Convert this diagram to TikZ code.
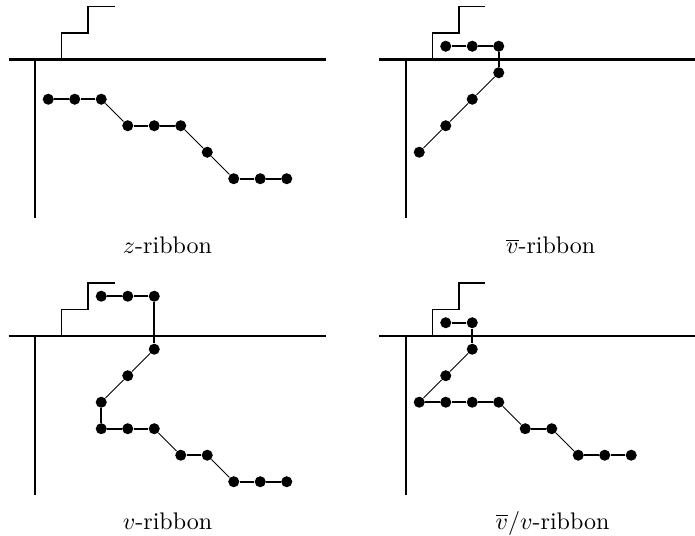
\documentclass[tikz,border=0pt]{standalone}
\tikzset{
  dot/.style={circle,fill=black,inner sep=0pt,minimum size=4.6pt},
  axisline/.style={line width=1.2pt},
  stair/.style={line width=0.8pt},
  hlink/.style={line width=0.8pt},
  dlink/.style={line width=0.4pt},
  lab/.style={anchor=base,font=\fontsize{10}{12}\selectfont}
}
\newcommand\panelframe{%
  \draw[axisline] (-1,0) -- (11,0);
  \draw[axisline] (0,0) -- (0,6);
  \draw[stair] (1,0) -- (1,-1) -- (2,-1) -- (2,-2) -- (3,-2);
}
\begin{document}
\begin{tikzpicture}[x=0.388cm,y=-0.388cm]
\path[use as bounding box,clip] (-1.321,-2.245) rectangle (24.906,17.98);
% ---------- z-ribbon ----------
\begin{scope}
  \panelframe
  \node[dot] (a1) at (0.5,1.5) {};
  \node[dot] (a2) at (1.5,1.5) {};
  \node[dot] (a3) at (2.5,1.5) {};
  \node[dot] (a4) at (3.5,2.5) {};
  \node[dot] (a5) at (4.5,2.5) {};
  \node[dot] (a6) at (5.5,2.5) {};
  \node[dot] (a7) at (6.5,3.5) {};
  \node[dot] (a8) at (7.5,4.5) {};
  \node[dot] (a9) at (8.5,4.5) {};
  \node[dot] (a10) at (9.5,4.5) {};
  \draw[hlink] (a1) -- (a2);
  \draw[hlink] (a2) -- (a3);
  \draw[dlink] (a3) -- (a4);
  \draw[hlink] (a4) -- (a5);
  \draw[hlink] (a5) -- (a6);
  \draw[dlink] (a6) -- (a7);
  \draw[dlink] (a7) -- (a8);
  \draw[hlink] (a8) -- (a9);
  \draw[hlink] (a9) -- (a10);
  \node[lab] (la) at (5,7.34) {$z$-ribbon};
\end{scope}
% ---------- vbar-ribbon ----------
\begin{scope}[shift={(14,0)}]
  \panelframe
  \node[dot] (b1) at (1.5,-0.5) {};
  \node[dot] (b2) at (2.5,-0.5) {};
  \node[dot] (b3) at (3.5,-0.5) {};
  \node[dot] (b4) at (3.5,0.5) {};
  \node[dot] (b5) at (2.5,1.5) {};
  \node[dot] (b6) at (1.5,2.5) {};
  \node[dot] (b7) at (0.5,3.5) {};
  \draw[hlink] (b1) -- (b2);
  \draw[hlink] (b2) -- (b3);
  \draw[hlink] (b3) -- (b4);
  \draw[dlink] (b4) -- (b5);
  \draw[dlink] (b5) -- (b6);
  \draw[dlink] (b6) -- (b7);
  \node[lab] (lb) at (5.46,7.34) {$\overline{v}$-ribbon};
\end{scope}
% ---------- v-ribbon ----------
\begin{scope}[shift={(0,10.434)}]
  \panelframe
  \node[dot] (c1) at (2.5,-1.5) {};
  \node[dot] (c2) at (3.5,-1.5) {};
  \node[dot] (c3) at (4.5,-1.5) {};
  \node[dot] (c4) at (4.5,0.5) {};
  \node[dot] (c5) at (3.5,1.5) {};
  \node[dot] (c6) at (2.5,2.5) {};
  \node[dot] (c7) at (2.5,3.5) {};
  \node[dot] (c8) at (3.5,3.5) {};
  \node[dot] (c9) at (4.5,3.5) {};
  \node[dot] (c10) at (5.5,4.5) {};
  \node[dot] (c11) at (6.5,4.5) {};
  \node[dot] (c12) at (7.5,5.5) {};
  \node[dot] (c13) at (8.5,5.5) {};
  \node[dot] (c14) at (9.5,5.5) {};
  \draw[hlink] (c1) -- (c2);
  \draw[hlink] (c2) -- (c3);
  \draw[hlink] (c3) -- (c4);
  \draw[dlink] (c4) -- (c5);
  \draw[dlink] (c5) -- (c6);
  \draw[hlink] (c6) -- (c7);
  \draw[hlink] (c7) -- (c8);
  \draw[hlink] (c8) -- (c9);
  \draw[dlink] (c9) -- (c10);
  \draw[hlink] (c10) -- (c11);
  \draw[dlink] (c11) -- (c12);
  \draw[hlink] (c12) -- (c13);
  \draw[hlink] (c13) -- (c14);
  \node[lab] (lc) at (5,7.29) {$v$-ribbon};
\end{scope}
% ---------- vbar/v-ribbon ----------
\begin{scope}[shift={(14,10.434)}]
  \panelframe
  \node[dot] (d1) at (1.5,-0.5) {};
  \node[dot] (d2) at (2.5,-0.5) {};
  \node[dot] (d3) at (2.5,0.5) {};
  \node[dot] (d4) at (1.5,1.5) {};
  \node[dot] (d5) at (0.5,2.5) {};
  \node[dot] (d6) at (1.5,2.5) {};
  \node[dot] (d7) at (2.5,2.5) {};
  \node[dot] (d8) at (3.5,2.5) {};
  \node[dot] (d9) at (4.5,3.5) {};
  \node[dot] (d10) at (5.5,3.5) {};
  \node[dot] (d11) at (6.5,4.5) {};
  \node[dot] (d12) at (7.5,4.5) {};
  \node[dot] (d13) at (8.5,4.5) {};
  \draw[hlink] (d1) -- (d2);
  \draw[hlink] (d2) -- (d3);
  \draw[dlink] (d3) -- (d4);
  \draw[dlink] (d4) -- (d5);
  \draw[hlink] (d5) -- (d6);
  \draw[hlink] (d6) -- (d7);
  \draw[hlink] (d7) -- (d8);
  \draw[dlink] (d8) -- (d9);
  \draw[hlink] (d9) -- (d10);
  \draw[dlink] (d10) -- (d11);
  \draw[hlink] (d11) -- (d12);
  \draw[hlink] (d12) -- (d13);
  \node[lab] (ld) at (5.53,7.29) {$\overline{v}/v$-ribbon};
\end{scope}
\end{tikzpicture}
\end{document}
